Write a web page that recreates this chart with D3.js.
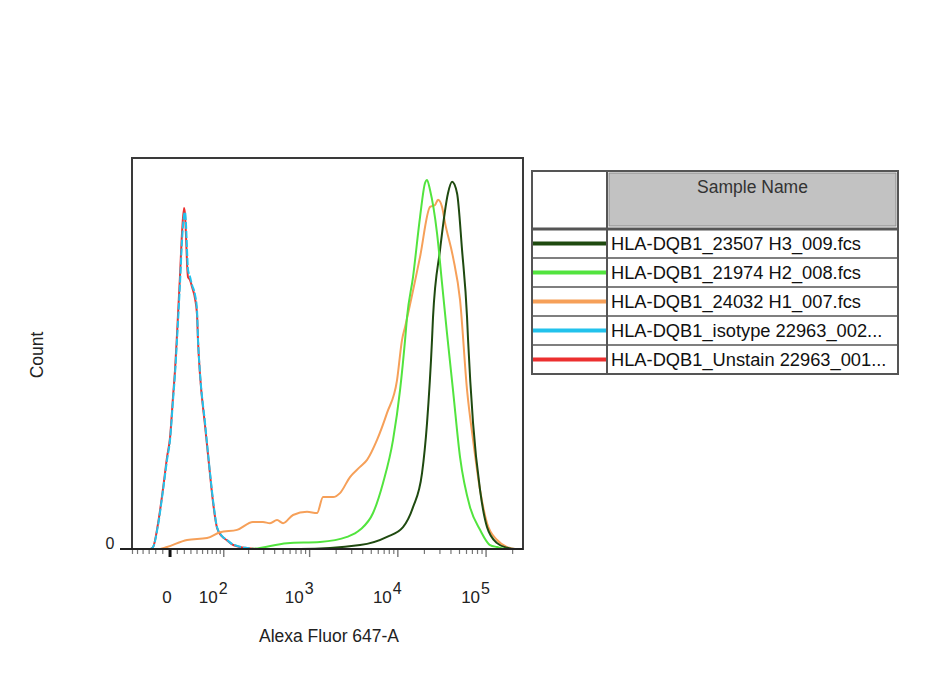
<!DOCTYPE html>
<html>
<head>
<meta charset="utf-8">
<script src="https://cdn.jsdelivr.net/npm/d3@7"></script>
<style>
  html, body { margin: 0; padding: 0; background: #ffffff; }
  svg { display: block; font-family: "Liberation Sans", Arial, sans-serif; }
</style>
</head>
<body>
<svg id="chart" width="927" height="675"></svg>
<script>
// ---------------- DATA ----------------
const xDomain = [-61, 262144];          // Alexa Fluor 647-A range
const yDomain = [0, 100];               // Count (% of max)
const asinhCofactor = 52.4;

const majorTicks = [0, 100, 1000, 10000, 100000];
const majorTickLabels = ["0", "10|2", "10|3", "10|4", "10|5"];
const minorTicks = [-60, -50, -40, -30, -20, -10, 10, 20, 30, 40, 50, 60, 70, 80, 90,
  200, 300, 400, 500, 600, 700, 800, 900,
  2000, 3000, 4000, 5000, 6000, 7000, 8000, 9000,
  20000, 30000, 40000, 50000, 60000, 70000, 80000, 90000, 200000];

const sampleNames = [
  "HLA-DQB1_23507 H3_009.fcs",
  "HLA-DQB1_21974 H2_008.fcs",
  "HLA-DQB1_24032 H1_007.fcs",
  "HLA-DQB1_isotype 22963_002...",
  "HLA-DQB1_Unstain 22963_001..."
];
const sampleColors = ["#1f4a10", "#52e43e", "#f6a059", "#22c2ec", "#ec2f2f"];

// [fluorescence, count %]
const h3Data = [[-61,0],[778,0],[3727,1.0],[7545,3.1],[11450,5.6],[14870,10.7],[18800,19.4],
  [21420,32.2],[24400,53.5],[25050,59.3],[30080,76.5],[37030,91.0],[41180,93.9],[46880,91.0],
  [53420,76.5],[60850,59.3],[62490,53.5],[71210,32.2],[85420,15.1],[102600,5.6],[133200,1.5],
  [172900,0.3],[212900,0],[262144,0]];
const h2Data = [[-61,0],[208,0],[554,1.5],[1311,1.8],[2657,3.1],[3727,4.9],[5235,9.2],[6796,16.9],
  [8824,27.9],[10600,40.7],[12080,53.5],[12710,59.3],[14870,69.6],[17850,84.9],[20330,93.6],
  [21420,94.4],[23170,91.8],[27800,80.8],[31680,68.0],[36060,55.2],[42160,40.7],[50690,23.5],
  [65800,10.7],[85420,4.9],[110900,1.0],[133200,0.5],[172900,0],[262144,0]];
const h1Data = [[-61,0],[-13.8,0],[-4.1,0.5],[24,2.3],[58.8,2.8],[89.6,4.3],[146,4.9],[225,6.9],
  [294,6.9],[354,6.6],[426,7.4],[499,6.6],[648,8.7],[935,9.5],[1214,9.2],[1420,13.3],[1844,13.3],
  [2210,14.3],[2870,18.4],[3727,21.0],[4477,22.8],[5811,27.9],[7545,34.8],[9794,43.2],[11160,53.5],
  [12080,56.8],[17850,74.7],[23170,87.5],[26400,88.0],[28540,89.3],[31680,87.5],[34270,83.4],
  [42160,74.7],[50690,63.7],[60850,40.7],[71210,27.9],[85420,15.1],[102600,6.6],[133200,2.3],
  [172900,0.5],[212900,0],[262144,0]];
const isotypeData = [[-61,0],[-28.6,0],[-24,0.5],[-16.7,6.1],[-9.6,15.1],[-4.1,22.8],[0,27.9],
  [4.1,38.1],[6.9,45.0],[9.6,53.5],[13.8,68.0],[16.7,79.0],[19.6,85.4],[21.0,86.2],[22.5,82.9],
  [24.0,76.5],[25.5,71.4],[28.6,69.6],[31.8,67.5],[36.7,65.0],[40.0,61.1],[41.8,53.5],[45.3,45.0],
  [54.8,32.2],[65.2,19.4],[71.9,12.5],[81.6,5.6],[95,3.3],[110,2.3],[127,1.3],[146,0.8],[182,0.3],
  [272,0],[262144,0]];
const unstainData = [[-61,0],[-28.6,0],[-24,0.5],[-16.7,6.5],[-9.6,15.5],[-4.1,23.5],[0,28.5],
  [4.1,39.0],[6.9,46.0],[9.6,55.0],[13.8,70.0],[16.7,81.0],[19.6,87.2],[21.0,85.5],[22.5,80.0],
  [24.0,73.0],[25.5,69.5],[28.6,68.8],[31.8,67.0],[36.7,64.0],[40.0,60.0],[41.8,53.0],[45.3,44.5],
  [54.8,31.5],[65.2,19.0],[71.9,12.0],[81.6,5.4],[95,3.2],[110,2.2],[127,1.2],[146,0.7],[182,0.3],
  [272,0],[262144,0]];

// ---------------- LAYOUT ----------------
const svg = d3.select("#chart");
const plot = { left: 132, top: 158, right: 523, bottom: 549 };

const xT = d3.scaleLinear()
  .domain(xDomain.map(v => Math.asinh(v / asinhCofactor)))
  .range([plot.left, plot.right]);
const x = v => xT(Math.asinh(v / asinhCofactor));
const y = d3.scaleLinear().domain(yDomain).range([plot.bottom, plot.top]);

const line = d3.line().x(d => x(d[0])).y(d => y(d[1])).curve(d3.curveMonotoneX);

// plot frame
svg.append("rect")
  .attr("x", plot.left).attr("y", plot.top)
  .attr("width", plot.right - plot.left).attr("height", plot.bottom - plot.top)
  .attr("fill", "#fff").attr("stroke", "#3a3a3a").attr("stroke-width", 2);

// histograms (draw order: back to front)
const drawOrder = [
  { data: unstainData, color: sampleColors[4], dash: null },
  { data: isotypeData, color: sampleColors[3], dash: "7,2" },
  { data: h1Data, color: sampleColors[2], dash: null },
  { data: h3Data, color: sampleColors[0], dash: null },
  { data: h2Data, color: sampleColors[1], dash: null }
];
const g = svg.append("g");
drawOrder.forEach(s => {
  g.append("path").datum(s.data)
    .attr("d", line)
    .attr("fill", "none")
    .attr("stroke", s.color)
    .attr("stroke-width", 2)
    .attr("stroke-linejoin", "round")
    .attr("stroke-dasharray", s.dash);
});

// bottom axis line
svg.append("line")
  .attr("x1", plot.left - 12).attr("x2", plot.right)
  .attr("y1", plot.bottom).attr("y2", plot.bottom)
  .attr("stroke", "#222").attr("stroke-width", 2);

// x ticks
svg.append("g").selectAll("line.minor").data(minorTicks).join("line")
  .attr("x1", d => x(d)).attr("x2", d => x(d))
  .attr("y1", plot.bottom + 1).attr("y2", plot.bottom + 5)
  .attr("stroke", "#777").attr("stroke-width", 1.2);
svg.append("g").selectAll("line.major").data(majorTicks).join("line")
  .attr("x1", d => x(d)).attr("x2", d => x(d))
  .attr("y1", plot.bottom + 1).attr("y2", plot.bottom + 8)
  .attr("stroke", (d, i) => i === 0 ? "#111" : "#777")
  .attr("stroke-width", (d, i) => i === 0 ? 3 : 1.4);

// x tick labels
const labG = svg.append("g").attr("fill", "#222");
majorTicks.forEach((v, i) => {
  const parts = majorTickLabels[i].split("|");
  const cx = x(v) - (i === 0 ? 3 : 10);
  if (parts.length === 1) {
    labG.append("text").attr("x", cx).attr("y", 603)
      .attr("text-anchor", "middle").attr("font-size", 17).text(parts[0]);
  } else {
    labG.append("text").attr("x", cx + 4).attr("y", 603)
      .attr("text-anchor", "end").attr("font-size", 17).text(parts[0]);
    labG.append("text").attr("x", cx + 5).attr("y", 594)
      .attr("text-anchor", "start").attr("font-size", 16).text(parts[1]);
  }
});

// y axis tick "0"
svg.append("line")
  .attr("x1", plot.left - 12).attr("x2", plot.left)
  .attr("y1", y(0)).attr("y2", y(0))
  .attr("stroke", "#222").attr("stroke-width", 1.5);
svg.append("text").attr("x", 110).attr("y", 549)
  .attr("text-anchor", "middle").attr("font-size", 16).attr("fill", "#222").text("0");

// axis titles
svg.append("text").attr("x", 329).attr("y", 642)
  .attr("text-anchor", "middle").attr("font-size", 17.5).attr("fill", "#222")
  .text("Alexa Fluor 647-A");
svg.append("text").attr("transform", "translate(43,355) rotate(-90)")
  .attr("text-anchor", "middle").attr("font-size", 17.5).attr("fill", "#222")
  .text("Count");

// ---------------- LEGEND TABLE ----------------
const lg = { left: 532, top: 171, right: 898, divider: 607, headerBottom: 228, rowH: 29 };
const legendG = svg.append("g");
const rowsTop = lg.headerBottom + 1;
const bottom = rowsTop + lg.rowH * sampleNames.length;

legendG.append("rect")
  .attr("x", lg.left).attr("y", lg.top)
  .attr("width", lg.right - lg.left).attr("height", bottom - lg.top)
  .attr("fill", "#fff");
legendG.append("rect")
  .attr("x", lg.divider + 2).attr("y", lg.top + 2)
  .attr("width", lg.right - lg.divider - 4).attr("height", lg.headerBottom - lg.top - 4)
  .attr("fill", "#c2c2c2").attr("stroke", "#8a8a8a").attr("stroke-width", 1);
legendG.append("text")
  .attr("x", (lg.divider + lg.right) / 2).attr("y", 193)
  .attr("text-anchor", "middle").attr("font-size", 17.5).attr("fill", "#333")
  .text("Sample Name");

sampleNames.forEach((name, i) => {
  const top = rowsTop + i * lg.rowH;
  const cy = top + lg.rowH / 2;
  legendG.append("line")
    .attr("x1", lg.left + 1).attr("x2", lg.divider)
    .attr("y1", cy).attr("y2", cy)
    .attr("stroke", sampleColors[i]).attr("stroke-width", 4);
  legendG.append("text")
    .attr("x", lg.divider + 4).attr("y", cy + 6.5)
    .attr("font-size", 18.3).attr("fill", "#111")
    .text(name);
  legendG.append("line")
    .attr("x1", lg.left).attr("x2", lg.right)
    .attr("y1", top).attr("y2", top)
    .attr("stroke", "#555").attr("stroke-width", i === 0 ? 3 : 1.6);
});
legendG.append("line")
  .attr("x1", lg.divider).attr("x2", lg.divider)
  .attr("y1", lg.top).attr("y2", bottom)
  .attr("stroke", "#555").attr("stroke-width", 2);
legendG.append("rect")
  .attr("x", lg.left).attr("y", lg.top)
  .attr("width", lg.right - lg.left).attr("height", bottom - lg.top)
  .attr("fill", "none").attr("stroke", "#555").attr("stroke-width", 2);
</script>
</body>
</html>
